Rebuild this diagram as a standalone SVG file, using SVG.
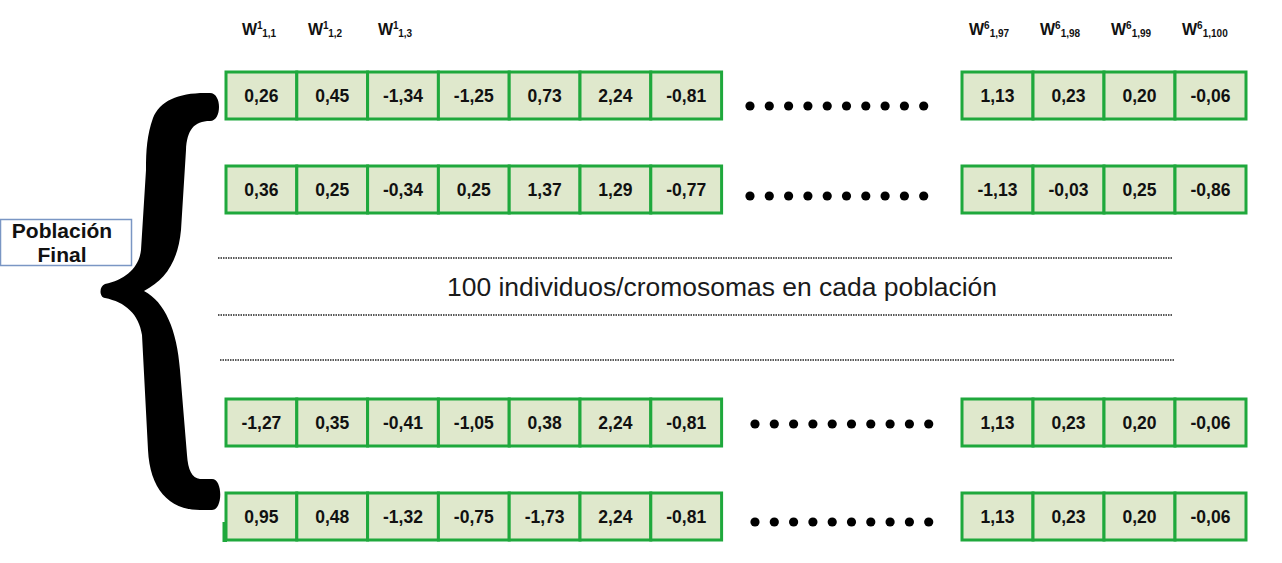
<svg xmlns="http://www.w3.org/2000/svg" width="1282" height="563" viewBox="0 0 1282 563">
<style>
.cell{fill:#dfe8cc;stroke:#1fa83c;stroke-width:3}
.v{font-family:"Liberation Sans",Arial,sans-serif;font-weight:bold;font-size:17.5px;fill:#111;text-anchor:middle}
.h{font-family:"Liberation Sans",Arial,sans-serif;font-weight:bold;font-size:16px;fill:#111}
.hs{font-size:10px}
.dot{fill:#000}
.sep{stroke:#222;stroke-width:1.5;stroke-dasharray:1.5 1;fill:none}
</style>
<defs>
<g id="dots">
<circle class="dot" cx="0" cy="0" r="4.6"/><circle class="dot" cx="19.3" cy="0" r="4.6"/><circle class="dot" cx="38.6" cy="0" r="4.6"/><circle class="dot" cx="57.9" cy="0" r="4.6"/><circle class="dot" cx="77.2" cy="0" r="4.6"/><circle class="dot" cx="96.5" cy="0" r="4.6"/><circle class="dot" cx="115.8" cy="0" r="4.6"/><circle class="dot" cx="135.1" cy="0" r="4.6"/><circle class="dot" cx="154.4" cy="0" r="4.6"/><circle class="dot" cx="173.7" cy="0" r="4.6"/>
</g>
</defs>
<rect width="1282" height="563" fill="#fff"/>

<g id="headers">
<text class="h" x="242" y="35">W<tspan class="hs" dy="-6">1</tspan><tspan class="hs" dy="8">1,1</tspan></text>
<text class="h" x="308" y="35">W<tspan class="hs" dy="-6">1</tspan><tspan class="hs" dy="8">1,2</tspan></text>
<text class="h" x="378" y="35">W<tspan class="hs" dy="-6">1</tspan><tspan class="hs" dy="8">1,3</tspan></text>
<text class="h" x="969" y="35">W<tspan class="hs" dy="-6">6</tspan><tspan class="hs" dy="8">1,97</tspan></text>
<text class="h" x="1040" y="35">W<tspan class="hs" dy="-6">6</tspan><tspan class="hs" dy="8">1,98</tspan></text>
<text class="h" x="1111" y="35">W<tspan class="hs" dy="-6">6</tspan><tspan class="hs" dy="8">1,99</tspan></text>
<text class="h" x="1182" y="35">W<tspan class="hs" dy="-6">6</tspan><tspan class="hs" dy="8">1,100</tspan></text>
</g>

<g id="brace">
<path fill="#000" d="M210,93 C180,92 160,100 153,118 C147,135 146,150 146,170 L141,250 C139,268 125,280 105,284 C99,286 99,297 105,298 C125,302 139,314 142,335 L148,450 C150,488 168,510 200,510 L212,510 C223,510 223,479 212,479 L200,479 C192,478 188,470 187,455 L180,370 C177,330 165,302 144,291 C165,280 178,262 181,230 L186,150 C187,130 194,121 210,121 C222,121 222,93 210,93 Z"/>
</g>

<g id="poblacion-final">
<rect x="0.5" y="219.5" width="131" height="46" fill="#fff" stroke="#7a96c4" stroke-width="1.5"/>
<text x="62" y="238" font-family="Liberation Sans,Arial,sans-serif" font-weight="bold" font-size="21" fill="#111" text-anchor="middle">Población</text>
<text x="62" y="262" font-family="Liberation Sans,Arial,sans-serif" font-weight="bold" font-size="21" fill="#111" text-anchor="middle">Final</text>
</g>

<g id="row1">
<rect class="cell" x="226" y="72" width="70.8" height="47"/><rect class="cell" x="296.8" y="72" width="70.8" height="47"/><rect class="cell" x="367.6" y="72" width="70.8" height="47"/><rect class="cell" x="438.4" y="72" width="70.8" height="47"/><rect class="cell" x="509.2" y="72" width="70.8" height="47"/><rect class="cell" x="580" y="72" width="70.8" height="47"/><rect class="cell" x="650.8" y="72" width="70.8" height="47"/>
<text class="v" y="102"><tspan x="261.4">0,26</tspan><tspan x="332.2">0,45</tspan><tspan x="403">-1,34</tspan><tspan x="473.8">-1,25</tspan><tspan x="544.6">0,73</tspan><tspan x="615.4">2,24</tspan><tspan x="686.2">-0,81</tspan></text>
<use href="#dots" x="750" y="106"/>
<rect class="cell" x="962" y="72" width="71" height="47"/><rect class="cell" x="1033" y="72" width="71" height="47"/><rect class="cell" x="1104" y="72" width="71" height="47"/><rect class="cell" x="1175" y="72" width="71" height="47"/>
<text class="v" y="102"><tspan x="997.5">1,13</tspan><tspan x="1068.5">0,23</tspan><tspan x="1139.5">0,20</tspan><tspan x="1210.5">-0,06</tspan></text>
</g>

<g id="row2">
<rect class="cell" x="226" y="166" width="70.8" height="47"/><rect class="cell" x="296.8" y="166" width="70.8" height="47"/><rect class="cell" x="367.6" y="166" width="70.8" height="47"/><rect class="cell" x="438.4" y="166" width="70.8" height="47"/><rect class="cell" x="509.2" y="166" width="70.8" height="47"/><rect class="cell" x="580" y="166" width="70.8" height="47"/><rect class="cell" x="650.8" y="166" width="70.8" height="47"/>
<text class="v" y="196"><tspan x="261.4">0,36</tspan><tspan x="332.2">0,25</tspan><tspan x="403">-0,34</tspan><tspan x="473.8">0,25</tspan><tspan x="544.6">1,37</tspan><tspan x="615.4">1,29</tspan><tspan x="686.2">-0,77</tspan></text>
<use href="#dots" x="750" y="196"/>
<rect class="cell" x="962" y="166" width="71" height="47"/><rect class="cell" x="1033" y="166" width="71" height="47"/><rect class="cell" x="1104" y="166" width="71" height="47"/><rect class="cell" x="1175" y="166" width="71" height="47"/>
<text class="v" y="196"><tspan x="997.5">-1,13</tspan><tspan x="1068.5">-0,03</tspan><tspan x="1139.5">0,25</tspan><tspan x="1210.5">-0,86</tspan></text>
</g>

<g id="separators">
<line class="sep" x1="218" y1="258" x2="1172" y2="258"/>
<line class="sep" x1="218" y1="315" x2="1172" y2="315"/>
<line class="sep" x1="220" y1="360" x2="1175" y2="360"/>
</g>
<g id="caption">
<text x="722" y="296" font-family="Liberation Sans,Arial,sans-serif" font-size="25" fill="#1a1a1a" text-anchor="middle" textLength="550" lengthAdjust="spacingAndGlyphs">100 individuos/cromosomas en cada población</text>
</g>

<g id="row3">
<rect class="cell" x="226" y="399" width="70.8" height="47"/><rect class="cell" x="296.8" y="399" width="70.8" height="47"/><rect class="cell" x="367.6" y="399" width="70.8" height="47"/><rect class="cell" x="438.4" y="399" width="70.8" height="47"/><rect class="cell" x="509.2" y="399" width="70.8" height="47"/><rect class="cell" x="580" y="399" width="70.8" height="47"/><rect class="cell" x="650.8" y="399" width="70.8" height="47"/>
<text class="v" y="429"><tspan x="261.4">-1,27</tspan><tspan x="332.2">0,35</tspan><tspan x="403">-0,41</tspan><tspan x="473.8">-1,05</tspan><tspan x="544.6">0,38</tspan><tspan x="615.4">2,24</tspan><tspan x="686.2">-0,81</tspan></text>
<use href="#dots" x="755" y="424"/>
<rect class="cell" x="962" y="399" width="71" height="47"/><rect class="cell" x="1033" y="399" width="71" height="47"/><rect class="cell" x="1104" y="399" width="71" height="47"/><rect class="cell" x="1175" y="399" width="71" height="47"/>
<text class="v" y="429"><tspan x="997.5">1,13</tspan><tspan x="1068.5">0,23</tspan><tspan x="1139.5">0,20</tspan><tspan x="1210.5">-0,06</tspan></text>
</g>

<g id="row4">
<path d="M224,522 L224,540.5 L227,540.5" fill="none" stroke="#1fa83c" stroke-width="3"/>
<rect class="cell" x="226" y="493" width="70.8" height="47"/><rect class="cell" x="296.8" y="493" width="70.8" height="47"/><rect class="cell" x="367.6" y="493" width="70.8" height="47"/><rect class="cell" x="438.4" y="493" width="70.8" height="47"/><rect class="cell" x="509.2" y="493" width="70.8" height="47"/><rect class="cell" x="580" y="493" width="70.8" height="47"/><rect class="cell" x="650.8" y="493" width="70.8" height="47"/>
<text class="v" y="523"><tspan x="261.4">0,95</tspan><tspan x="332.2">0,48</tspan><tspan x="403">-1,32</tspan><tspan x="473.8">-0,75</tspan><tspan x="544.6">-1,73</tspan><tspan x="615.4">2,24</tspan><tspan x="686.2">-0,81</tspan></text>
<use href="#dots" x="755" y="522"/>
<rect class="cell" x="962" y="493" width="71" height="47"/><rect class="cell" x="1033" y="493" width="71" height="47"/><rect class="cell" x="1104" y="493" width="71" height="47"/><rect class="cell" x="1175" y="493" width="71" height="47"/>
<text class="v" y="523"><tspan x="997.5">1,13</tspan><tspan x="1068.5">0,23</tspan><tspan x="1139.5">0,20</tspan><tspan x="1210.5">-0,06</tspan></text>
</g>
</svg>
